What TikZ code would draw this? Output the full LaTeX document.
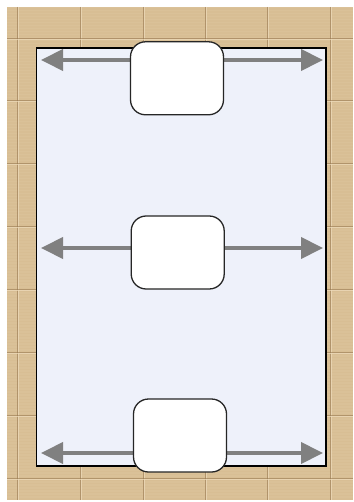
\documentclass[tikz,border=0pt]{standalone}
\usetikzlibrary{arrows.meta}
\definecolor{tile}{RGB}{216,190,148}
\definecolor{tiledark}{RGB}{150,118,78}
\definecolor{tilelight}{RGB}{238,220,188}
\definecolor{room}{RGB}{238,241,250}
\definecolor{arrowgray}{RGB}{128,128,128}
\pgfdeclarelayer{floorlayer}
\pgfdeclarelayer{arrowlayer}
\pgfsetlayers{floorlayer,arrowlayer,main}
\tikzset{
  boxnode/.style={draw=black!85, line width=1.3pt, fill=white, rounded corners=15pt,
    minimum width=93pt, minimum height=73pt, inner sep=0pt},
  dblarrow/.style={draw=arrowgray, line width=4pt, -{Triangle[length=22pt,width=21pt]}},
  groutline/.style={draw=tiledark, line width=0.8pt, opacity=0.6},
  groutlight/.style={draw=tilelight, line width=0.8pt, opacity=0.7}
}
\begin{document}
\begin{tikzpicture}[x=1pt,y=-1pt]
\useasboundingbox (0,0) rectangle (353,502);
\begin{pgfonlayer}{floorlayer}
\fill[white] (0,0) rectangle (353,502);
\fill[tile] (7,7) rectangle (353,500);
\foreach \t in {7,10,...,497}{
  \fill[tilelight, opacity=0.12] (7,\t) rectangle (353,\t+1.5);
}
\foreach \xx in {17,80,143,205,267,330}{
  \draw[groutline] (\xx,7) -- (\xx,500);
  \draw[groutlight] (\xx+1.5,7) -- (\xx+1.5,500);
}
\foreach \yy in {38,100,163,226,289,352,415,478}{
  \draw[groutline] (7,\yy) -- (353,\yy);
  \draw[groutlight] (7,\yy+1.5) -- (353,\yy+1.5);
}
\draw[fill=room, draw=black, line width=1.2pt] (36.7,48) rectangle (326,466);
\end{pgfonlayer}
% boxes
\node[boxnode] (topbox) at (177,78.3) {};
\node[boxnode] (midbox) at (177.7,252.5) {};
\node[boxnode] (botbox) at (180,435.5) {};
% free ends of arrows
\coordinate (tl) at (41,60);
\coordinate (tr) at (323,60);
\coordinate (ml) at (41,248);
\coordinate (mr) at (323,248);
\coordinate (bl) at (41,453);
\coordinate (br) at (323,453);
\begin{pgfonlayer}{arrowlayer}
\draw[dblarrow] (topbox.center|-tl) -- (tl);
\draw[dblarrow] (topbox.center|-tr) -- (tr);
\draw[dblarrow] (midbox.center|-ml) -- (ml);
\draw[dblarrow] (midbox.center|-mr) -- (mr);
\draw[dblarrow] (botbox.center|-bl) -- (bl);
\draw[dblarrow] (botbox.center|-br) -- (br);
\end{pgfonlayer}
\end{tikzpicture}
\end{document}
